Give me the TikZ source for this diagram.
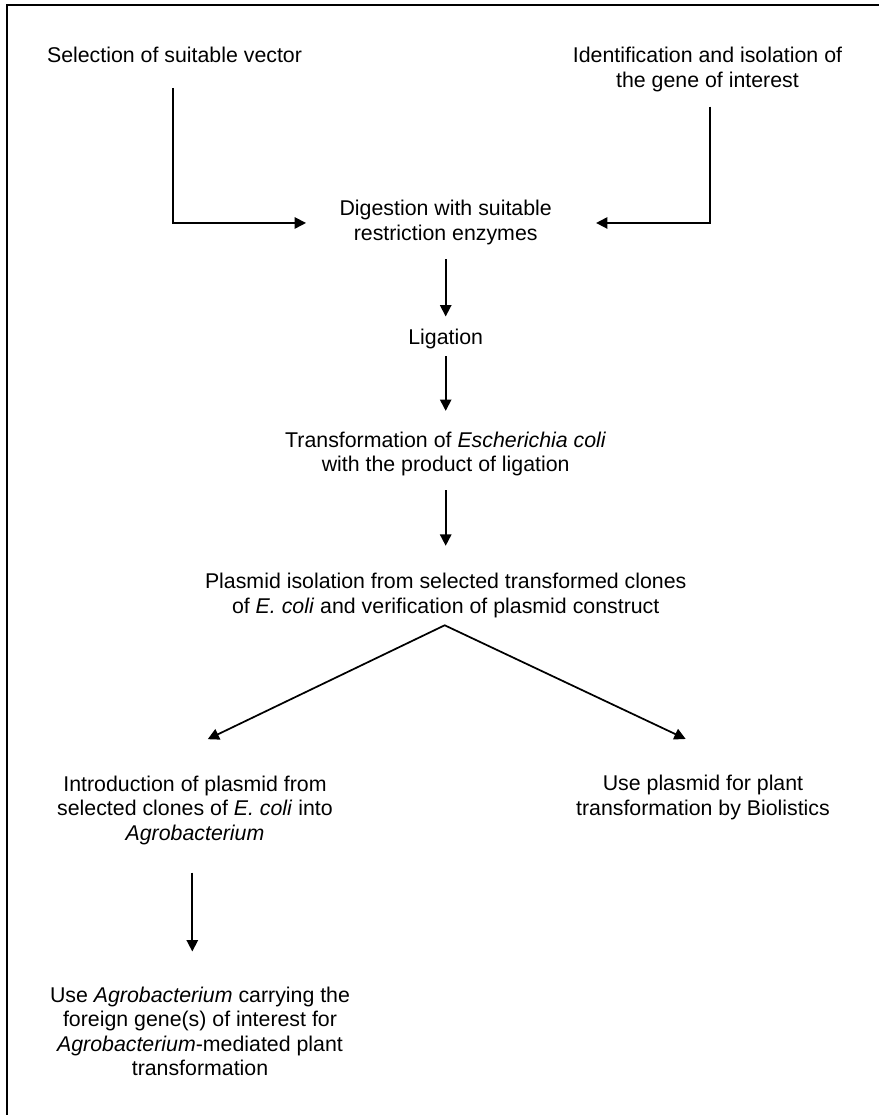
\documentclass[tikz,border=0pt]{standalone}
\usepackage{fontspec}
\setmainfont{Liberation Sans}
\usetikzlibrary{arrows.meta,calc}
\begin{document}
\begin{tikzpicture}[x=0.75pt,y=-0.75pt,
  txt/.style={font=\fontsize{16}{18.4}\selectfont, align=center, inner sep=0pt, yshift=-2pt},
  conn/.style={line width=1.3pt, -{Triangle[length=8.5pt,width=8.5pt]}},
  twoway/.style={line width=1.3pt, {Triangle[length=8.5pt,width=8.5pt]}-{Triangle[length=8.5pt,width=8.5pt]}},
  border/.style={line width=1.5pt}]
\useasboundingbox (0,0) rectangle (879,1115);
\draw[border] (882,5.3) -- (6.7,5.3) -- (6.7,1118);

\node[txt] (sel) at (174.5,55) {\strut Selection of suitable vector};
\node[txt] (iden) at (707.5,67.5) {\strut Identification and isolation of\\the gene of interest\strut};
\node[txt] (dig) at (445.7,220.3) {\strut Digestion with suitable\\restriction enzymes\strut};
\node[txt] (lig) at (445.7,336.7) {\strut Ligation};
\node[txt] (trans) at (445.7,451.7) {\strut Transformation of \textit{Escherichia coli}\\with the product of ligation\strut};
\node[txt] (plas) at (445.7,593.3) {\strut Plasmid isolation from selected transformed clones\\of \textit{E. coli} and verification of plasmid construct\strut};
\node[txt] (intro) at (195,808) {\strut Introduction of plasmid from\\selected clones of \textit{E. coli} into\\\textit{Agrobacterium}\strut};
\node[txt] (biol) at (703,795.5) {\strut Use plasmid for plant\\transformation by Biolistics\strut};
\node[txt] (agro) at (200,1031.5) {\strut Use \textit{Agrobacterium} carrying the\\foreign gene(s) of interest for\\\textit{Agrobacterium}-mediated plant\\transformation\strut};

\draw[conn] ($(sel.south)+(-1.8,17.7)$) |- ($(dig.west)+(-33.3,0)$);
\draw[conn] ($(iden.south)+(2.5,11.7)$) |- ($(dig.east)+(44,0)$);
\draw[conn] ($(dig.south)+(0,11.3)$) -- ($(lig.north)+(0,-10.4)$);
\draw[conn] ($(lig.south)+(0,4.3)$) -- ($(trans.north)+(0,-18.7)$);
\draw[conn] ($(trans.south)+(0,11)$) -- ($(plas.north)+(0,-25.4)$);
\draw[twoway] ($(intro.north)+(12.7,-34.4)$) -- ($(plas.south)+(-1,4.5)$) -- ($(biol.north)+(-17.3,-34.4)$);
\draw[conn] ($(intro.south)+(-2.7,25)$) -- ($(agro.north)+(-7.7,-33.4)$);
\end{tikzpicture}
\end{document}
